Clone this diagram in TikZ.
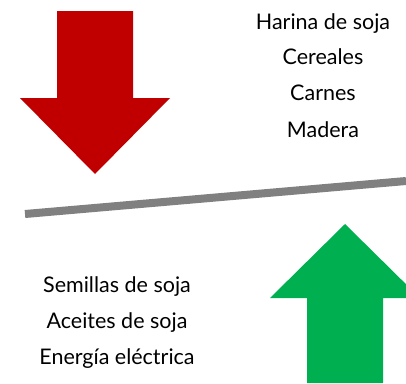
\documentclass[tikz,border=0pt]{standalone}
\usepackage{fontspec}
\setmainfont{Lato}
\definecolor{arrowred}{RGB}{192,0,0}
\definecolor{arrowgreen}{RGB}{0,176,80}
\definecolor{bargray}{RGB}{128,128,128}
\tikzset{lbl/.style={anchor=base,font=\fontsize{21.5}{25}\selectfont,inner sep=0pt}}

\begin{document}
\begin{tikzpicture}[x=1pt,y=-1pt]
   \useasboundingbox (0,0) rectangle (406,383);
   \fill[arrowred] (57,11) -- (133,11) -- (133,98) -- (170,98) -- (95,174)
    -- (20,98) -- (57,98) -- cycle;
   \fill[arrowgreen] (307,383) -- (307,298) -- (270,298) -- (345,224)
    -- (420,298) -- (383,298) -- (383,383) -- cycle;
   \coordinate (barl) at (25,214);
   \coordinate (barr) at (406,181);
   \draw[bargray,line width=8pt] (barl) -- (barr);
   \node[lbl] (harina) at (323,29) {Harina de soja};
   \node[lbl] (cereales) at (323,64) {Cereales};
   \node[lbl] (carnes) at (323,100) {Carnes};
   \node[lbl] (madera) at (323,137) {Madera};
   \node[lbl] (semillas) at (117,292) {Semillas de soja};
   \node[lbl] (aceites) at (117,328) {Aceites de soja};
   \node[lbl] (energia) at (117,364) {Energía eléctrica};
  \end{tikzpicture}
\end{document}
